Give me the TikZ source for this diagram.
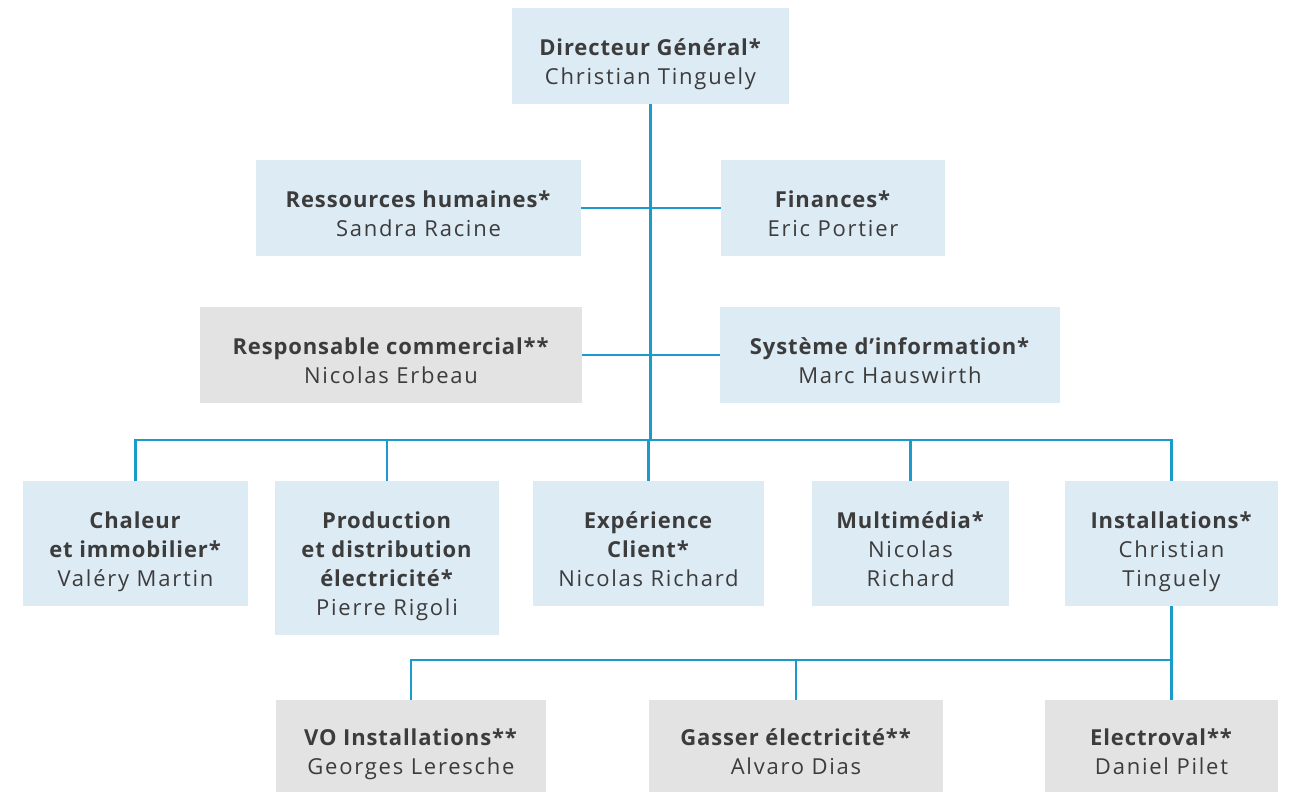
\documentclass[tikz,border=0pt]{standalone}
\usepackage{fontspec}
\setmainfont{Open Sans}[LetterSpace=8, BoldFeatures={LetterSpace=4}]
\definecolor{boxblue}{HTML}{DDEBF5}
\definecolor{boxgray}{HTML}{E3E3E3}
\definecolor{linkblue}{HTML}{1A9BCA}
\definecolor{txtgray}{HTML}{3C3C3C}
\newcommand\tp{\rule{0pt}{17pt}}
\newcommand\bt{\rule[-3pt]{0pt}{0pt}}
\tikzset{
  unit/.style={fill=boxblue, inner sep=0pt, align=center, text=txtgray,
    font=\fontsize{11}{14.5}\selectfont},
  extern/.style={unit, fill=boxgray},
  wh/.style 2 args={minimum width=#1*0.5pt, minimum height=#2*0.5pt},
  link/.style={draw=linkblue, line width=1.3pt}
}
\begin{document}
\begin{tikzpicture}[x=0.5pt,y=-0.5pt]
  \useasboundingbox (0,0) rectangle (1290,793);
  % direction
  \node[unit,wh={277}{96}] (dg) at (650.5,56) {\tp\textbf{Directeur Général*}\\Christian Tinguely\bt};
  \node[unit,wh={325}{96}] (rh) at (418.5,208) {\tp\textbf{Ressources humaines*}\\Sandra Racine\bt};
  \node[unit,wh={224}{96}] (fin) at (833,208) {\tp\textbf{Finances*}\\Eric Portier\bt};
  \node[extern,wh={382}{96}] (rc) at (391,355) {\tp\textbf{Responsable commercial**}\\Nicolas Erbeau\bt};
  \node[unit,wh={340}{96}] (si) at (890,355) {\tp\textbf{Système d’information*}\\Marc Hauswirth\bt};
  % divisions
  \node[unit,wh={225}{125}] (chal) at (135.5,543.5) {\tp\textbf{Chaleur}\\\textbf{et immobilier*}\\Valéry Martin\bt};
  \node[unit,wh={224}{154}] (prod) at (387,558) {\tp\textbf{Production}\\\textbf{et distribution}\\\textbf{électricité*}\\Pierre Rigoli\bt};
  \node[unit,wh={231}{125}] (exp) at (648.5,543.5) {\tp\textbf{Expérience}\\\textbf{Client*}\\Nicolas Richard\bt};
  \node[unit,wh={197}{125}] (multi) at (910.5,543.5) {\tp\textbf{Multimédia*}\\Nicolas\\Richard\bt};
  \node[unit,wh={213}{125}] (inst) at (1171.5,543.5) {\tp\textbf{Installations*}\\Christian\\Tinguely\bt};
  % filiales
  \node[extern,wh={270}{92}] (vo) at (411,746) {\tp\textbf{VO Installations**}\\Georges Leresche\bt};
  \node[extern,wh={294}{92}] (gas) at (796,746) {\tp\textbf{Gasser électricité**}\\Alvaro Dias\bt};
  \node[extern,wh={233}{92}] (elec) at (1161.5,746) {\tp\textbf{Electroval**}\\Daniel Pilet\bt};
  \coordinate (bus) at (0,440);
  \coordinate (bus2) at (0,660);
  \begin{scope}[link]
    \draw (dg.south) -- (dg.south |- bus);
    \draw (rh.east) -- (fin.west);
    \draw (rc.east) -- (si.west);
    \draw (chal.north) -- (chal.north |- bus) -- (inst.north |- bus) -- (inst.north);
    \draw (prod.north) -- (prod.north |- bus);
    \draw (exp.north) -- (exp.north |- bus);
    \draw (multi.north) -- (multi.north |- bus);
    \draw (inst.south) -- (inst.south |- elec.north);
    \draw (vo.north) -- (vo.north |- bus2) -- (inst.south |- bus2);
    \draw (gas.north) -- (gas.north |- bus2);
  \end{scope}
\end{tikzpicture}
\end{document}
